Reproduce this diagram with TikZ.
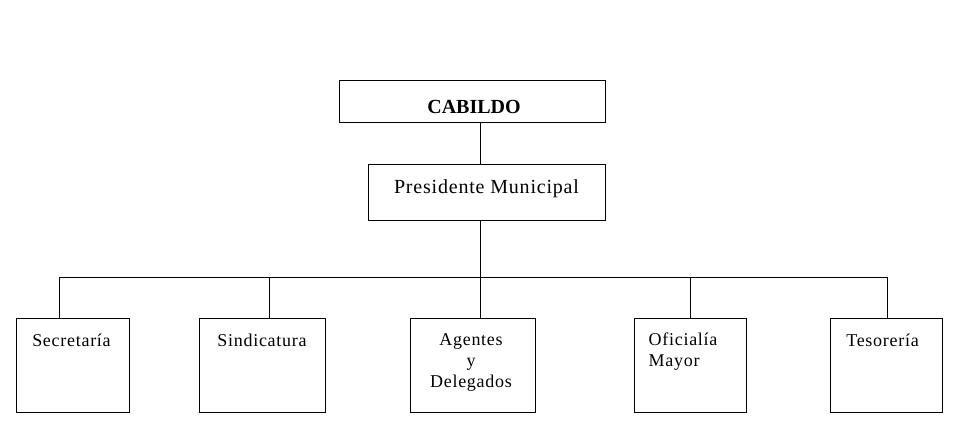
\documentclass[tikz,border=0pt]{standalone}
\usepackage{fontspec}
\setmainfont{Liberation Serif}[LetterSpace=4]
\newfontfamily\cabfont{Liberation Serif}
\begin{document}
\begin{tikzpicture}[x=1pt,y=-1pt,
  box/.style={draw,line width=1pt,rectangle,inner sep=0pt,anchor=north west},
  txt/.style={anchor=base,inner sep=0pt,font=\fontsize{18}{21}\selectfont,align=center},
  conn/.style={line width=1pt}]
\useasboundingbox (0,0) rectangle (959,439);
% boxes
\node[box,minimum width=266pt,minimum height=42pt] (cab) at (339,80) {};
\node[box,minimum width=237pt,minimum height=56pt] (pres) at (368,164) {};
\node[box,minimum width=113pt,minimum height=94pt] (sec) at (16,318) {};
\node[box,minimum width=126pt,minimum height=94pt] (sin) at (199,318) {};
\node[box,minimum width=125pt,minimum height=94pt] (age) at (410,318) {};
\node[box,minimum width=112pt,minimum height=94pt] (ofi) at (634,318) {};
\node[box,minimum width=112pt,minimum height=94pt] (tes) at (830,318) {};
% texts
\node[anchor=base,inner sep=0pt,font=\cabfont\bfseries\fontsize{20}{24}\selectfont] (cabT) at (474,113) {CABILDO};
\node[txt,font=\fontsize{20}{24}\selectfont] (presT) at (486.5,193) {Presidente Municipal};
\node[txt] (secT) at (71.5,346) {Secretaría};
\node[txt] (sinT) at (262,346) {Sindicatura};
\node[txt,anchor=north] (ageT) at (471,333) {Agentes\\y\\Delegados};
\node[txt,anchor=north west,align=left] (ofiT) at (648.5,333) {Oficialía\\Mayor};
\node[txt] (tesT) at (882.5,346) {Tesorería};
% connectors
\coordinate (bus) at (480,277);
\coordinate (b1) at (59,277);
\coordinate (b2) at (269,277);
\coordinate (b4) at (690,277);
\coordinate (b5) at (887,277);
\draw[conn] (cab.south -| bus) -- (pres.north -| bus);
\draw[conn] (pres.south -| bus) -- (bus);
\draw[conn] (b1) -- (b5);
\draw[conn] (b1) -- (b1 |- sec.north);
\draw[conn] (b2) -- (b2 |- sin.north);
\draw[conn] (bus) -- (bus |- age.north);
\draw[conn] (b4) -- (b4 |- ofi.north);
\draw[conn] (b5) -- (b5 |- tes.north);
\end{tikzpicture}
\end{document}
